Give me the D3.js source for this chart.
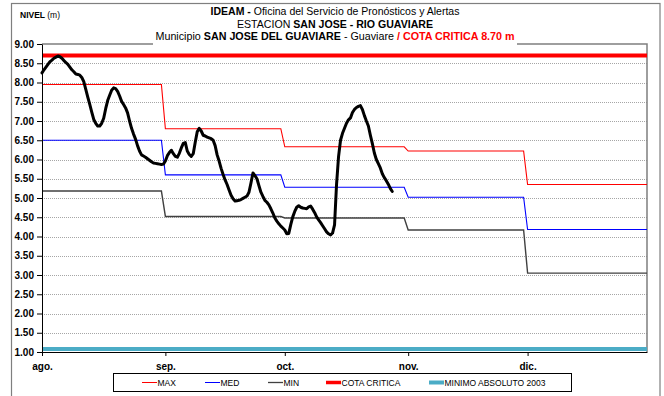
<!DOCTYPE html>
<html>
<head>
<meta charset="utf-8">
<script src="https://cdn.jsdelivr.net/npm/d3@7"></script>
<style>
  html, body { margin: 0; padding: 0; background: #fff; }
  svg { display: block; font-family: "Liberation Sans", Arial, sans-serif; }
</style>
</head>
<body>
<svg id="chart" width="664" height="396"></svg>
<script>
// Month labels and monthly reference levels (m)
const monthLabels = ["ago.", "sep.", "oct.", "nov.", "dic."];
const maxLevels = [7.95, 6.80, 6.33, 6.22, 5.35];
const medLevels = [6.50, 5.60, 5.28, 5.02, 4.18];
const minLevels = [5.18, 4.52, 4.48, 4.17, 3.05];
const cotaCritica = 8.70;
const minimoAbsoluto2003 = 1.08;

// Observed level, two readings per day starting 1 August (m)
const observedLevels = [
  8.25, 8.33, 8.40, 8.47, 8.54, 8.58, 8.63, 8.66, 8.69, 8.67,
  8.63, 8.57, 8.52, 8.47, 8.40, 8.33, 8.28, 8.22, 8.21, 8.19,
  8.13, 8.02, 7.82, 7.62, 7.43, 7.23, 7.04, 6.94, 6.87, 6.87,
  6.94, 7.07, 7.32, 7.53, 7.67, 7.80, 7.86, 7.84, 7.77, 7.65,
  7.51, 7.43, 7.34, 7.21, 7.00, 6.81, 6.66, 6.53, 6.36, 6.22,
  6.12, 6.09, 6.06, 6.02, 5.98, 5.94, 5.91, 5.90, 5.89, 5.88,
  5.87, 5.88, 5.96, 6.10, 6.18, 6.24, 6.15, 6.08, 6.06, 6.16,
  6.30, 6.42, 6.44, 6.22, 6.13, 6.08, 6.15, 6.45, 6.72, 6.81,
  6.74, 6.63, 6.61, 6.58, 6.56, 6.54, 6.50, 6.36, 6.12, 5.96,
  5.77, 5.61, 5.47, 5.35, 5.21, 5.07, 4.98, 4.92, 4.93, 4.94,
  4.96, 4.99, 5.02, 5.05, 5.15, 5.39, 5.65, 5.58, 5.50, 5.32,
  5.15, 5.04, 4.94, 4.89, 4.82, 4.72, 4.61, 4.48, 4.40, 4.33,
  4.27, 4.22, 4.17, 4.07, 4.08, 4.31, 4.51, 4.65, 4.76, 4.80,
  4.76, 4.74, 4.73, 4.72, 4.77, 4.79, 4.71, 4.62, 4.51, 4.43,
  4.36, 4.28, 4.20, 4.12, 4.07, 4.04, 4.09, 4.30, 5.35, 6.07,
  6.50, 6.68, 6.81, 6.94, 7.03, 7.08, 7.22, 7.30, 7.35, 7.38,
  7.40, 7.30, 7.14, 7.00, 6.87, 6.63, 6.41, 6.17, 6.00, 5.89,
  5.78, 5.63, 5.53, 5.45, 5.36, 5.25, 5.17
];

// Y axis tick values
const yTicks = d3.range(1, 9.001, 0.5);

const svg = d3.select("#chart");
const font = "'Liberation Sans', Arial, sans-serif";

const seasonStart = new Date(Date.UTC(2010, 7, 1));
const seasonEnd = new Date(Date.UTC(2010, 11, 31));
const monthStarts = monthLabels.map((_, i) => new Date(Date.UTC(2010, 7 + i, 1)));
const monthEnds = monthLabels.map((_, i) => i === monthLabels.length - 1 ? seasonEnd : new Date(Date.UTC(2010, 8 + i, 0)));

const x = d3.scaleUtc().domain([seasonStart, seasonEnd]).range([42, 647]);
const y = d3.scaleLinear().domain([1, 9]).range([352, 44]);

// Outer frame
svg.append("rect")
  .attr("x", 11.5).attr("y", 3.5).attr("width", 648.5).attr("height", 420)
  .attr("fill", "none").attr("stroke", "#7f7f7f").attr("stroke-width", 1.2);

// Dotted gridlines
svg.append("g").selectAll("line").data(yTicks.filter(v => v > 1 && v < 9)).join("line")
  .attr("x1", x(seasonStart)).attr("x2", x(seasonEnd))
  .attr("y1", d => Math.round(y(d)) + 0.5).attr("y2", d => Math.round(y(d)) + 0.5)
  .attr("stroke", "#a6a6a6").attr("stroke-width", 1).attr("stroke-dasharray", "1,1");

// Plot frame (top and right)
svg.append("path")
  .attr("d", `M${x(seasonStart)},${y(9)}H${x(seasonEnd)}V${y(1)}`)
  .attr("fill", "none").attr("stroke", "#7f7f7f").attr("stroke-width", 1.5);

// Horizontal reference lines
const flat = v => d3.line()([[x(seasonStart), y(v)], [x(seasonEnd), y(v)]]);
svg.append("path").attr("d", flat(minimoAbsoluto2003))
  .attr("stroke", "#4bacc6").attr("stroke-width", 4).attr("fill", "none");
svg.append("path").attr("d", flat(cotaCritica))
  .attr("stroke", "#ff0000").attr("stroke-width", 4).attr("fill", "none");

// Monthly step series
const stepPoints = levels => levels.flatMap((v, i) => [[monthStarts[i], v], [monthEnds[i], v]]);
const lineXY = d3.line().x(d => x(d[0])).y(d => y(d[1]));
const steps = [
  { levels: minLevels, color: "#404040", width: 1.4 },
  { levels: medLevels, color: "#0000ff", width: 1.1 },
  { levels: maxLevels, color: "#ff0000", width: 1.1 }
];
steps.forEach(s => {
  svg.append("path").attr("d", lineXY(stepPoints(s.levels)))
    .attr("fill", "none").attr("stroke", s.color).attr("stroke-width", s.width);
});

// Observed level
svg.append("path")
  .attr("d", lineXY(observedLevels.map((v, i) => [d3.utcHour.offset(seasonStart, 12 * i), v])))
  .attr("fill", "none").attr("stroke", "#000").attr("stroke-width", 3)
  .attr("stroke-linejoin", "round").attr("stroke-linecap", "round");

// Axes
const yAxis = svg.append("g").attr("transform", `translate(${x(seasonStart)},0)`)
  .call(d3.axisLeft(y).tickValues(yTicks).tickFormat(d3.format(".2f")).tickSize(5).tickPadding(3).tickSizeOuter(0));
yAxis.selectAll("text").attr("font-family", font).attr("font-size", 10).attr("font-weight", "bold").attr("fill", "#000");
yAxis.select(".domain").attr("stroke", "#000");

const xAxis = svg.append("g").attr("transform", `translate(0,${y(1)})`)
  .call(d3.axisBottom(x).tickValues(monthStarts).tickFormat((d, i) => monthLabels[i]).tickSize(4).tickPadding(7).tickSizeOuter(0));
xAxis.selectAll("text").attr("font-family", font).attr("font-size", 10).attr("font-weight", "bold").attr("fill", "#000");
xAxis.select(".domain").attr("stroke", "#000");

// Title block
const titleBox = svg.append("g");
titleBox.append("rect").attr("x", 153).attr("y", 5).attr("width", 364).attr("height", 41).attr("fill", "#fff");
const titleLines = [
  { y: 15, len: 249, parts: [["IDEAM - ", "bold", "#000"], ["Oficina del Servicio de Pronósticos y Alertas", "normal", "#000"]] },
  { y: 27.5, len: 196, parts: [["ESTACION ", "normal", "#000"], ["SAN JOSE - RIO GUAVIARE", "bold", "#000"]] },
  { y: 40, len: 359, parts: [["Municipio ", "normal", "#000"], ["SAN JOSE DEL GUAVIARE", "bold", "#000"], [" - Guaviare   ", "normal", "#000"], ["/  COTA CRITICA 8.70 m", "bold", "#ff0000"]] }
];
titleLines.forEach(l => {
  const t = titleBox.append("text").attr("x", 335).attr("y", l.y).attr("text-anchor", "middle")
    .attr("font-family", font).attr("font-size", 11)
    .attr("textLength", l.len).attr("lengthAdjust", "spacingAndGlyphs");
  l.parts.forEach(p => t.append("tspan").text(p[0]).attr("font-weight", p[1]).attr("fill", p[2]));
});

// Y axis title
const yTitle = svg.append("text").attr("x", 20).attr("y", 18).attr("font-family", font).attr("font-size", 8.5);
yTitle.append("tspan").text("NIVEL ").attr("font-weight", "bold");
yTitle.append("tspan").text("(m)");

// Legend
const legendItems = [
  { label: "MAX", color: "#ff0000", width: 1, x: 142 },
  { label: "MED", color: "#0000ff", width: 1, x: 205 },
  { label: "MIN", color: "#404040", width: 1.3, x: 268 },
  { label: "COTA CRITICA", color: "#ff0000", width: 3.5, x: 326 },
  { label: "MINIMO ABSOLUTO 2003", color: "#4bacc6", width: 4, x: 429 }
];
const legend = svg.append("g");
legend.append("rect").attr("x", 113.5).attr("y", 373.5).attr("width", 458).attr("height", 18)
  .attr("fill", "#fff").attr("stroke", "#000").attr("stroke-width", 1);
legendItems.forEach(it => {
  legend.append("line").attr("x1", it.x).attr("x2", it.x + 15).attr("y1", 382.5).attr("y2", 382.5)
    .attr("stroke", it.color).attr("stroke-width", it.width);
  legend.append("text").attr("x", it.x + 15.5).attr("y", 385.5).attr("font-family", font)
    .attr("font-size", 8.5).text(it.label);
});
</script>
</body>
</html>
